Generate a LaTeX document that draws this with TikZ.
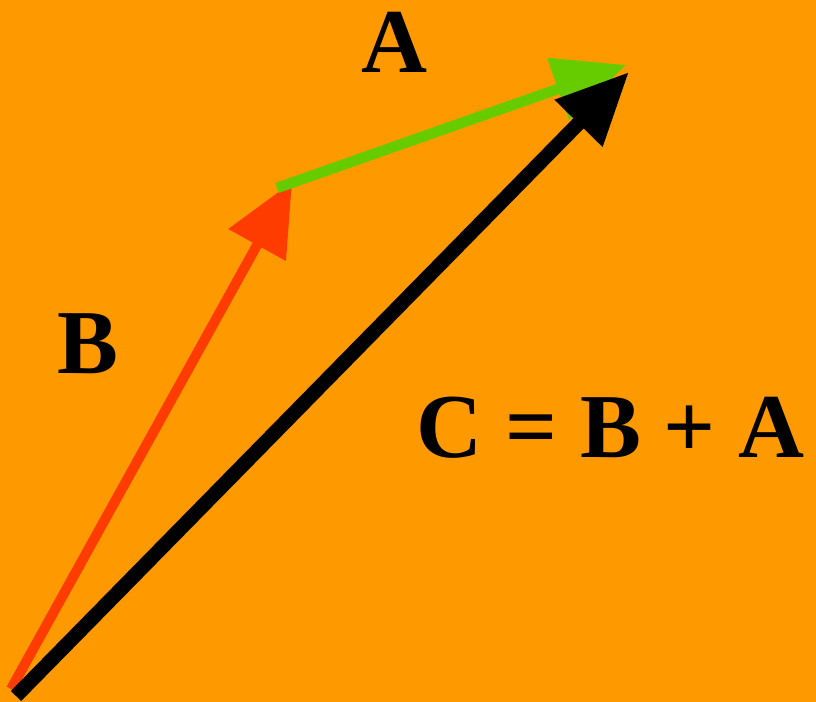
\documentclass[tikz,border=0pt]{standalone}
\usepackage{fontspec}
\setmainfont{Liberation Serif}
\usetikzlibrary{arrows.meta}
\definecolor{bg}{HTML}{FF9900}
\definecolor{vred}{HTML}{FF3C00}
\definecolor{vgreen}{HTML}{66CC00}

\begin{document}
\begin{tikzpicture}[x=.02cm,y=-.02cm,
  vec/.style={-{Triangle[length=41pt,width=36pt]}},
  lab/.style={font=\fontsize{52}{60}\selectfont\bfseries,text=black,anchor=base,inner sep=0pt}]
\fill[bg] (0,0) rectangle (816,702);
\useasboundingbox (0,0) rectangle (816,702);
% tails and tips of the three vectors
\coordinate (o1) at (11,689);
\coordinate (o2) at (16,696);
\coordinate (b) at (292,182);
\coordinate (a0) at (277,188);
\coordinate (a) at (626,65);
\coordinate (c) at (629,72);
% B, then A from its tip, then the sum
\draw[vec,vred,line width=5.7pt] (o1) -- (b);
\draw[vec,vgreen,line width=6pt] (a0) -- (a);
\draw[vec,black,line width=8.2pt] (o2) -- (c);
\node[lab] (labA) at (394.5,73) {A};
\node[lab] (labB) at (87.5,374) {B};
\node[lab] (labC) at (610.5,458) {C = B + A};
\end{tikzpicture}
\end{document}
